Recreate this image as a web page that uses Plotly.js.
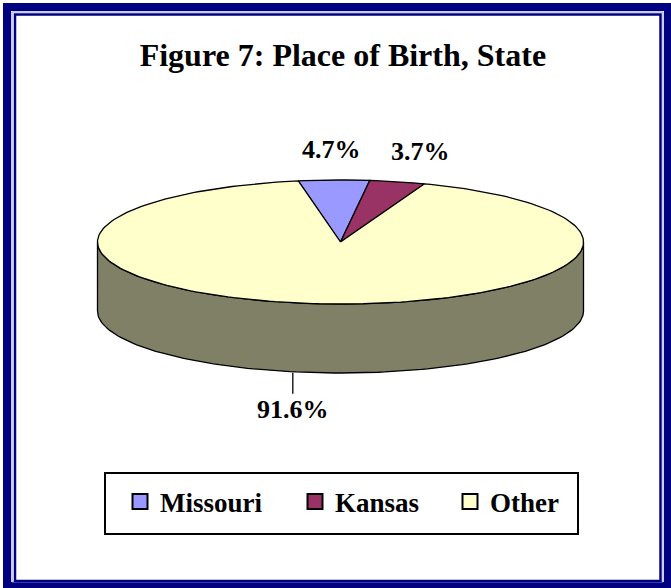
<!DOCTYPE html>
<html>
<head>
<meta charset="utf-8">
<script src="https://cdn.plot.ly/plotly-3.0.1.min.js"></script>
<style>html,body{margin:0;padding:0;background:#fff;}#chart{width:671px;height:588px;}</style>
</head>
<body>
<div id="chart"></div>
<script>
// ---- data ----
const labels = ['Missouri', 'Kansas', 'Other'];
const values = [4.7, 3.7, 91.6];
const topColors = ['#9999FF', '#993366', '#FFFFCC'];
const sideColors = ['#4D4D80', '#4D1A33', '#808066'];
const titleText = 'Figure 7: Place of Birth, State';

// ---- geometry of the 3-D pie (pixel space of the axes) ----
const W = 671, H = 588;
const CX = 340.5, CY = 242, RX = 243, RY = 62, DEPTH = 69, START = -10;
const FONT = 'Liberation Serif, Times New Roman, serif';
const rad = d => d * Math.PI / 180;
const px = (t) => CX + RX * Math.sin(rad(t));
const py = (t, dy) => CY + dy - RY * Math.cos(rad(t));
function arc(t0, t1, dy) {
  const n = Math.max(2, Math.ceil(Math.abs(t1 - t0) / 1.5));
  const xs = [], ys = [];
  for (let i = 0; i <= n; i++) { const t = t0 + (t1 - t0) * i / n; xs.push(px(t)); ys.push(py(t, dy)); }
  return [xs, ys];
}

const total = values.reduce((a, b) => a + b, 0);
const angles = [];
let acc = START;
values.forEach(v => { const s = acc; acc += v / total * 360; angles.push([s, acc]); });

const traces = [];
// side (front half only: 90..270)
angles.forEach(([t0, t1], i) => {
  [-360, 0, 360].forEach(k => {
    const lo = Math.max(t0 + k, 90), hi = Math.min(t1 + k, 270);
    if (lo < hi) {
      const [xa, ya] = arc(lo, hi, 0);
      const [xb, yb] = arc(hi, lo, DEPTH);
      traces.push({
        type: 'scatter', mode: 'lines', x: xa.concat(xb, [xa[0]]), y: ya.concat(yb, [ya[0]]),
        fill: 'toself', fillcolor: sideColors[i], line: {color: '#000', width: 1.3},
        hoverinfo: 'skip', showlegend: false
      });
    }
  });
});
// top faces
angles.forEach(([t0, t1], i) => {
  const [xa, ya] = arc(t0, t1, 0);
  traces.push({
    type: 'scatter', mode: 'lines', x: [CX].concat(xa, [CX]), y: [CY].concat(ya, [CY]),
    fill: 'toself', fillcolor: topColors[i], line: {color: '#000', width: 1.3},
    hoverinfo: 'skip', showlegend: false, name: labels[i]
  });
});
// legend entries
const legendNames = ['legend', 'legend2', 'legend3'];
labels.forEach((l, i) => {
  traces.push({
    type: 'scatter', mode: 'markers', x: [null], y: [null], name: l,
    marker: {symbol: 'square', size: 15, color: topColors[i], line: {color: '#000', width: 2}},
    legend: legendNames[i], showlegend: true, hoverinfo: 'skip'
  });
});

// labels
const annotations = angles.map(([t0, t1], i) => {
  const mid = (t0 + t1) / 2;
  const txt = values[i].toFixed(1) + '%';
  const font = {family: FONT, size: 26, color: '#000', weight: 700};
  if (Math.cos(rad(mid)) >= 0) {
    return {x: CX + RX * 1.4 * Math.sin(rad(mid)), y: CY - RY * 1.5 * Math.cos(rad(mid)),
            xref: 'x', yref: 'y', text: txt, showarrow: false, font: font};
  }
  return {x: px(mid) - 26, y: py(mid, DEPTH), xref: 'x', yref: 'y', text: txt, font: font,
          showarrow: true, arrowhead: 0, arrowwidth: 1.3, arrowcolor: '#000', ax: 0, ay: 37, standoff: 0};
});

const legendBase = {orientation: 'h', yanchor: 'middle', xanchor: 'left', bgcolor: 'rgba(0,0,0,0)',
  borderwidth: 0, font: {family: FONT, size: 27, color: '#000', weight: 700}, itemwidth: 30};
const legendX = [120, 295, 450];

const layout = {
  width: W, height: H, margin: {l: 0, r: 0, t: 0, b: 0},
  paper_bgcolor: '#fff', plot_bgcolor: '#fff',
  xaxis: {range: [0, W], visible: false, fixedrange: true},
  yaxis: {range: [H, 0], visible: false, fixedrange: true},
  title: {text: titleText, font: {family: FONT, size: 32, color: '#000', weight: 700},
          x: 0.511, xanchor: 'center', y: 1 - 55 / H, yanchor: 'middle', yref: 'container', xref: 'container'},
  annotations: annotations,
  shapes: [
    {type: 'rect', xref: 'x', yref: 'y', x0: 7, y0: 7, x1: 668, y1: 586, line: {color: '#000080', width: 8}},
    {type: 'rect', xref: 'x', yref: 'y', x0: 12, y0: 12, x1: 663, y1: 582, line: {color: '#9999CC', width: 1}},
    {type: 'rect', xref: 'x', yref: 'y', x0: 15, y0: 14.5, x1: 660.5, y1: 581, line: {color: '#000080', width: 2.5}},
    {type: 'rect', xref: 'x', yref: 'y', x0: 105, y0: 473, x1: 578, y1: 534, line: {color: '#000', width: 2}}
  ],
  showlegend: true
};
legendNames.forEach((n, i) => {
  layout[n] = Object.assign({}, legendBase, {x: legendX[i] / W, y: 1 - 502 / H});
});

Plotly.newPlot('chart', traces, layout, {displayModeBar: false, staticPlot: true});
</script>
</body>
</html>
